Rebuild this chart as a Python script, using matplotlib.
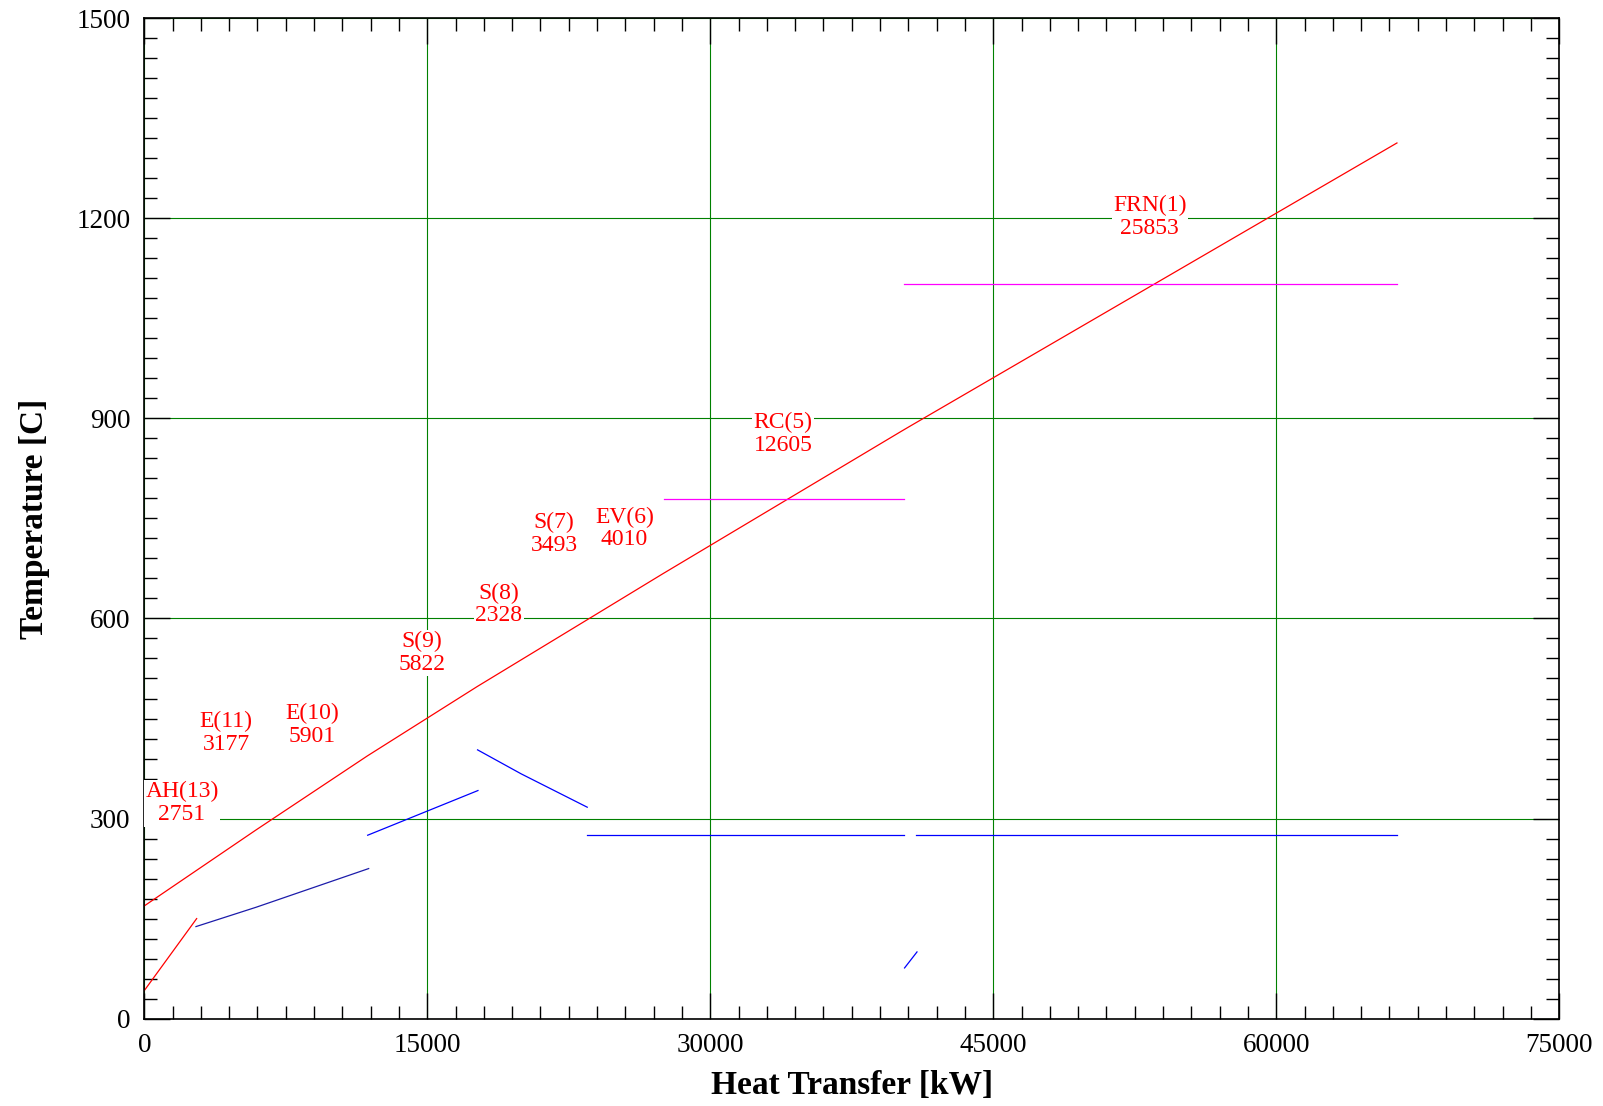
import matplotlib
matplotlib.use('Agg')
import matplotlib.pyplot as plt
from matplotlib.ticker import MultipleLocator

plt.rcParams['font.family'] = ['Liberation Serif', 'DejaVu Serif']

# hot gas line
gas_q = [0, 5928, 11829, 17651, 23472, 27482, 40087, 40537, 66398]
gas_t = [169, 283, 394, 498, 598, 667, 880, 887.5, 1313]

# air heater
ah_q = [0, 2777]
ah_t = [42, 150]

# water / steam side
eco_q = [2740, 5928, 11894]
eco_t = [138, 167, 225]
s9_q = [11841, 17687]
s9_t = [275, 342]
s87_q = [17666, 19979, 23480]
s87_t = [403, 367, 317]
ev_q = [23480, 40290]
ev_t = [275, 275]
small_q = [40299, 40958]
small_t = [76, 100]
frn_q = [40918, 66398]
frn_t = [275, 275]

# magenta lines
rc_q = [27550, 40290]
rc_t = [779, 779]
frn_m_q = [40270, 66390]
frn_m_t = [1101, 1101]

# labels
lab_names = ['FRN(1)', 'RC(5)', 'EV(6)', 'S(7)', 'S(8)', 'S(9)', 'E(10)', 'E(11)', 'AH(13)']
lab_duty = [25853, 12605, 4010, 3493, 2328, 5822, 5901, 3177, 2751]
lab_x = [53300, 33850, 25460, 21720, 18800, 14730, 8880, 4330, 2000]
lab_y = [1202, 877, 735, 727, 621, 548, 440, 428, 323]

fig = plt.figure(figsize=(16.03, 11.06), dpi=100)
ax = fig.add_axes([0.09, 0.079, 0.8827, 0.9045])

red = '#ff0000'
blue = '#0000ff'
mag = '#ff00ff'
lw = 0.9

ax.plot(gas_q, gas_t, color=red, lw=lw)
ax.plot(ah_q, ah_t, color=red, lw=lw)
ax.plot(eco_q, eco_t, color='#1c1caa', lw=lw)
ax.plot(s9_q, s9_t, color=blue, lw=lw)
ax.plot(s87_q, s87_t, color=blue, lw=lw)
ax.plot(ev_q, ev_t, color=blue, lw=lw)
ax.plot(small_q, small_t, color=blue, lw=lw)
ax.plot(frn_q, frn_t, color=blue, lw=lw)
ax.plot(rc_q, rc_t, color=mag, lw=lw)
ax.plot(frn_m_q, frn_m_t, color=mag, lw=lw)

for n, d, x, y in zip(lab_names, lab_duty, lab_x, lab_y):
    ax.text(x, y, n + '\n' + str(d), color=red, fontsize=17, ha='center', va='center',
            linespacing=1.1, zorder=5,
            bbox=dict(facecolor='white', edgecolor='none', pad=1))

ax.set_xlim(0, 75000)
ax.set_ylim(0, 1500)
ax.xaxis.set_major_locator(MultipleLocator(15000))
ax.xaxis.set_minor_locator(MultipleLocator(1500))
ax.yaxis.set_major_locator(MultipleLocator(300))
ax.yaxis.set_minor_locator(MultipleLocator(30))
ax.grid(True, which='major', color='green', lw=0.8)
ax.tick_params(which='both', direction='in', top=True, right=True, labelsize=19.5, pad=10)
ax.tick_params(which='major', length=19, width=1)
ax.tick_params(which='minor', length=9.5, width=1)
for s in ax.spines.values():
    s.set_linewidth(1.2)

ax.set_xlabel('Heat Transfer [kW]', fontsize=24, fontweight='bold', labelpad=9)
ax.set_ylabel('Temperature [C]', fontsize=24, fontweight='bold', labelpad=19)

fig.savefig('out.png', dpi=100)
